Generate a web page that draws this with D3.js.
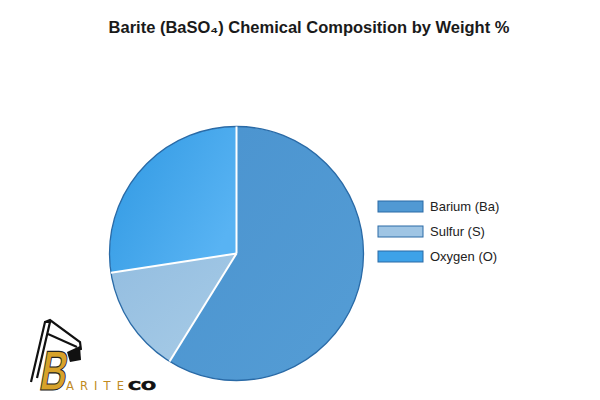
<!DOCTYPE html>
<html><head><meta charset="utf-8">
<script src="https://cdn.jsdelivr.net/npm/d3@7"></script>
<style>html,body{margin:0;padding:0;background:#fff;}svg{display:block;}</style>
</head><body>
<svg id="chart" width="600" height="400"></svg>
<script>
const categories = ["Barium (Ba)", "Sulfur (S)", "Oxygen (O)"];
const values = [58.84, 13.74, 27.42];
const colors = ["#5199d3", "#9fc5e4", "#3ea2e8"];
const title = "Barite (BaSO\u2084) Chemical Composition by Weight %";

const svg = d3.select("#chart");
const defs = svg.append("defs");
const g1 = defs.append("linearGradient").attr("id","gO").attr("x1","0").attr("y1","0").attr("x2","1").attr("y2","0.6");
g1.append("stop").attr("offset","0").attr("stop-color","#2f98e2");
g1.append("stop").attr("offset","1").attr("stop-color","#58b3f3");
const g0 = defs.append("linearGradient").attr("id","gB").attr("x1","0").attr("y1","0").attr("x2","1").attr("y2","1");
g0.append("stop").attr("offset","0").attr("stop-color","#4a93cf");
g0.append("stop").attr("offset","1").attr("stop-color","#559dd5");
const g2 = defs.append("linearGradient").attr("id","gS").attr("x1","0").attr("y1","0").attr("x2","1").attr("y2","1");
g2.append("stop").attr("offset","0").attr("stop-color","#93bde0");
g2.append("stop").attr("offset","1").attr("stop-color","#a8cce7");
const fills = ["url(#gB)", "url(#gS)", "url(#gO)"];

svg.append("text").attr("x", 309).attr("y", 33).attr("text-anchor","middle")
  .attr("font-family","Liberation Sans, Arial, sans-serif").attr("font-size", 16.5)
  .attr("font-weight","bold").attr("fill","#1a1a1a").text(title);

const cx = 236.5, cy = 253.5, r = 127;
const pie = d3.pie().sort(null).value(d => d);
const arc = d3.arc().innerRadius(0).outerRadius(r);
const arcs = pie(values);
const gp = svg.append("g").attr("transform", `translate(${cx},${cy})`);
gp.selectAll("path.slice").data(arcs).enter().append("path").attr("class","slice")
  .attr("d", arc).attr("fill", (d,i) => fills[i]).attr("stroke","none");
gp.append("circle").attr("r", r).attr("fill","none").attr("stroke","#2a6aa6").attr("stroke-width",1.3);
gp.selectAll("line.sep").data(arcs).enter().append("line").attr("class","sep")
  .attr("x1",0).attr("y1",0)
  .attr("x2", d => r*Math.sin(d.startAngle)).attr("y2", d => -r*Math.cos(d.startAngle))
  .attr("stroke","#ffffff").attr("stroke-width",2);

// legend
const lg = svg.append("g").attr("transform","translate(378,201)");
const items = lg.selectAll("g").data(categories).enter().append("g")
  .attr("transform",(d,i)=>`translate(0,${i*25})`);
items.append("rect").attr("x",0).attr("y",0).attr("width",45).attr("height",11)
  .attr("fill",(d,i)=>colors[i]).attr("stroke","#2a6aa6").attr("stroke-width",1);
items.append("text").attr("x",52).attr("y",10).attr("font-family","Liberation Sans, Arial, sans-serif")
  .attr("font-size",13).attr("fill","#222").text(d=>d);

// logo
const logo = svg.append("g");
logo.append("path").attr("d","M31,382 L45,322 L50,322 L37,378").attr("fill","none").attr("stroke","#111").attr("stroke-width",2.2);
logo.append("path").attr("d","M45,322 L50,320 L80,342 L81,350").attr("fill","none").attr("stroke","#111").attr("stroke-width",2.2);
logo.append("path").attr("d","M48,334 L77,347").attr("fill","none").attr("stroke","#111").attr("stroke-width",2);
logo.append("path").attr("d","M67,352 L80,346 L81,360 L70,362 Z").attr("fill","#111");
logo.append("g").attr("transform","translate(38,390) skewX(-10) scale(0.66,1)")
  .append("text").attr("x",0).attr("y",0).attr("font-family","Liberation Sans, Arial, sans-serif")
  .attr("font-size",56).attr("font-weight","bold").attr("fill","#d7a22a")
  .attr("stroke","#222").attr("stroke-width",1.2).text("B");
logo.append("text").attr("x",66).attr("y",390).attr("font-family","DejaVu Sans, sans-serif")
  .attr("font-size",11.5).attr("fill","#c08a22").attr("textLength",58).attr("lengthAdjust","spacing").text("ARITE");
logo.append("text").attr("x",128).attr("y",390).attr("font-family","DejaVu Sans, sans-serif")
  .attr("font-size",11.5).attr("font-weight","bold").attr("fill","#111").attr("stroke","#111").attr("stroke-width",0.6)
  .attr("textLength",28).attr("lengthAdjust","spacingAndGlyphs").text("CO");
</script>
</body></html>
